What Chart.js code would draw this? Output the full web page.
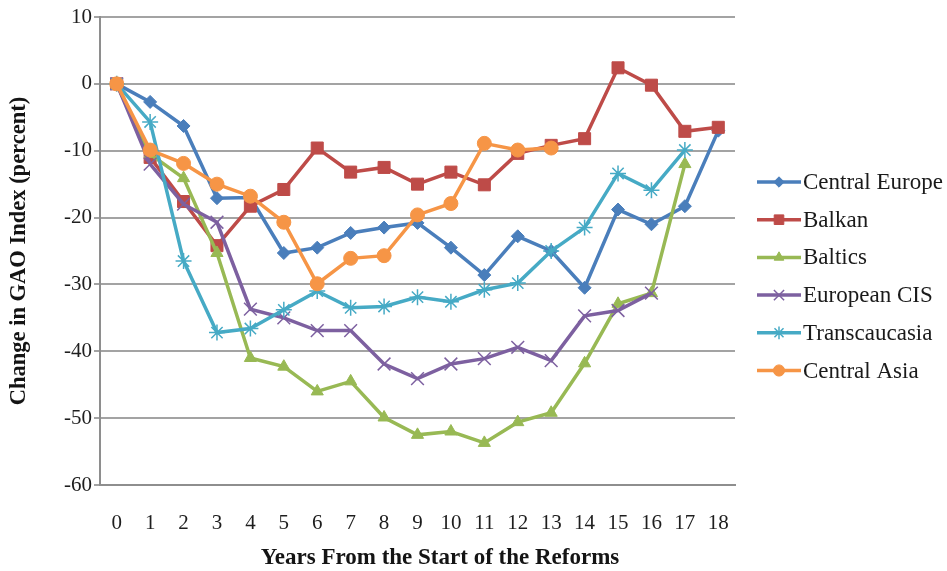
<!DOCTYPE html>
<html>
<head>
<meta charset="utf-8">
<script src="https://cdn.jsdelivr.net/npm/chart.js@4/dist/chart.umd.min.js"></script>
<style>
  html, body { margin: 0; padding: 0; background: #fff; }
  #wrap { width: 947px; height: 571px; position: relative; }
</style>
</head>
<body>
<div id="wrap"><canvas id="c" width="947" height="571"></canvas></div>
<script>
// Years from the start of the reforms
const years = ['0','1','2','3','4','5','6','7','8','9','10','11','12','13','14','15','16','17','18'];

// Change in GAO index (percent) by region
const centralEurope = [0, -2.7, -6.3, -17.1, -17.0, -25.3, -24.5, -22.3, -21.5, -20.8, -24.5, -28.6, -22.8, -25.0, -30.5, -18.8, -21.0, -18.3, -7.0];
const balkan        = [0, -11.0, -17.6, -24.2, -18.3, -15.8, -9.6, -13.2, -12.5, -15.0, -13.2, -15.1, -10.4, -9.2, -8.2, 2.4, -0.2, -7.1, -6.5];
const baltics       = [0, -10.5, -14.1, -25.3, -41.0, -42.3, -46.0, -44.5, -49.9, -52.5, -52.0, -53.7, -50.6, -49.2, -41.8, -32.9, -31.3, -12.0];
const europeanCIS   = [0, -12.0, -18.0, -20.7, -33.7, -35.0, -36.9, -36.9, -41.9, -44.1, -41.9, -41.1, -39.4, -41.4, -34.7, -33.9, -31.3];
const transcaucasia = [0, -5.7, -26.5, -37.2, -36.6, -33.8, -31.0, -33.5, -33.3, -31.9, -32.6, -30.8, -29.8, -25.0, -21.5, -13.4, -15.9, -9.9];
const centralAsia   = [0, -9.9, -11.9, -15.0, -16.8, -20.7, -29.9, -26.1, -25.7, -19.6, -17.9, -8.9, -9.9, -9.6];

const seriesNames = ['Central Europe', 'Balkan', 'Baltics', 'European CIS', 'Transcaucasia', 'Central Asia'];
const xTitle = 'Years From the Start of the Reforms';
const yTitle = 'Change in GAO Index (percent)';

const SERIF = '"Liberation Serif", "Times New Roman", serif';

// later series are painted over earlier ones
function series(label, data, color, style, radius, order) {
  const stroked = (style === 'crossRot' || style === 'star');
  return {
    label, data, order,
    borderColor: color,
    backgroundColor: color,
    borderWidth: 3.5,
    pointStyle: style,
    pointRadius: radius,
    pointHoverRadius: radius,
    pointBorderWidth: stroked ? 1.5 : 1,
    pointBorderColor: color,
    pointBackgroundColor: color,
    tension: 0,
    fill: false,
    clip: false
  };
}

const datasets = [
  series(seriesNames[0], centralEurope, '#4A7EBB', 'rectRot', 6.5, 6),
  series(seriesNames[1], balkan,        '#BE4B48', 'rect', 8.5, 5),
  series(seriesNames[2], baltics,       '#98B954', 'triangle', 7, 4),
  series(seriesNames[3], europeanCIS,   '#7D60A0', 'crossRot', 9, 3),
  series(seriesNames[4], transcaucasia, '#46AAC5', 'star', 8, 2),
  series(seriesNames[5], centralAsia,   '#F69546', 'circle', 7, 1)
];

// Legend (line + marker samples) and the horizontal axis title
const sideLegend = {
  id: 'sideLegend',
  afterDraw(chart) {
    const ctx = chart.ctx;
    const x0 = 757, x1 = 801, top = 182, step = 37.7;
    ctx.save();
    chart.data.datasets.forEach((ds, i) => {
      const y = top + i * step;
      ctx.strokeStyle = ds.borderColor;
      ctx.lineWidth = 3.5;
      ctx.beginPath();
      ctx.moveTo(x0, y);
      ctx.lineTo(x1, y);
      ctx.stroke();
      ctx.fillStyle = ds.pointBackgroundColor;
      ctx.strokeStyle = ds.pointBorderColor;
      ctx.lineWidth = ds.pointBorderWidth;
      Chart.helpers.drawPoint(ctx, {
        pointStyle: ds.pointStyle,
        rotation: 0,
        radius: ds.pointRadius * 0.8,
        borderWidth: ds.pointBorderWidth
      }, (x0 + x1) / 2, y);
      ctx.fillStyle = '#1a1a1a';
      ctx.font = '23px ' + SERIF;
      ctx.textBaseline = 'middle';
      ctx.textAlign = 'left';
      ctx.fillText(ds.label, x1 + 2, y + 1);
    });

    ctx.fillStyle = '#141414';
    ctx.font = 'bold 23px ' + SERIF;
    ctx.textAlign = 'center';
    ctx.textBaseline = 'middle';
    ctx.fillText(xTitle, 440, 558);
    ctx.restore();
  }
};

new Chart(document.getElementById('c'), {
  type: 'line',
  data: { labels: years, datasets },
  options: {
    responsive: false,
    animation: false,
    devicePixelRatio: 1,
    layout: { padding: { top: 17, right: 212, left: 0, bottom: 0 } },
    plugins: {
      legend: { display: false },
      tooltip: { enabled: false }
    },
    scales: {
      x: {
        type: 'category',
        offset: true,
        grid: { display: false, drawTicks: false },
        border: { display: true, color: '#8e8e8e', width: 2 },
        ticks: {
          color: '#1e1e1e',
          font: { family: SERIF, size: 21 },
          padding: 26,
          maxRotation: 0,
          autoSkip: false
        },
        title: { display: false },
        afterFit(scale) { scale.height = 86; }
      },
      y: {
        min: -60,
        max: 10,
        ticks: {
          stepSize: 10,
          color: '#1e1e1e',
          font: { family: SERIF, size: 21 },
          padding: 2
        },
        grid: {
          color: '#a3a3a3',
          lineWidth: 2,
          tickLength: 6,
          drawTicks: true
        },
        border: { display: true, color: '#8e8e8e', width: 2 },
        title: {
          display: true,
          text: yTitle,
          color: '#141414',
          font: { family: SERIF, size: 22.5, weight: 'bold' },
          padding: { top: 6, bottom: 0 }
        },
        afterFit(scale) { scale.width = 100; }
      }
    }
  },
  plugins: [sideLegend]
});
</script>
</body>
</html>
